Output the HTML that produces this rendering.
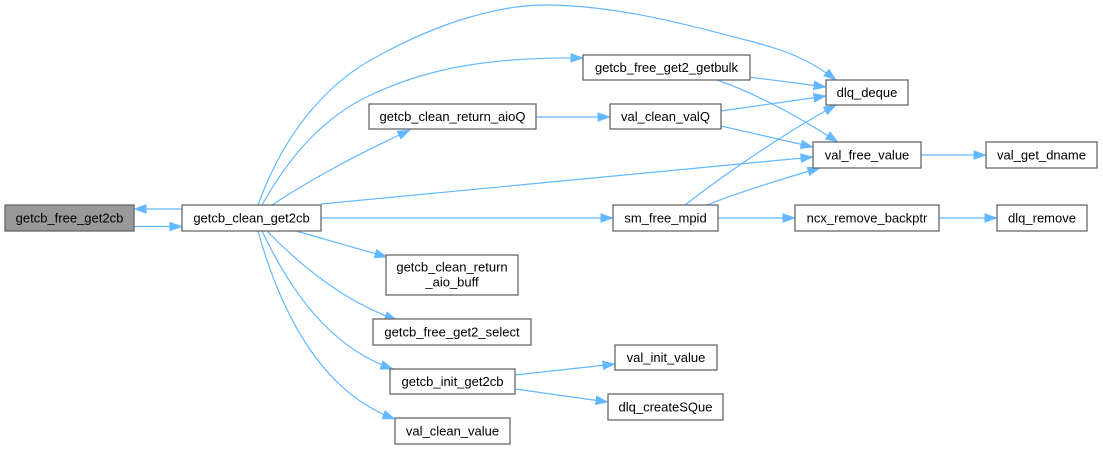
<!DOCTYPE html>
<html><head><meta charset="utf-8"><style>
html,body{margin:0;padding:0;background:#fff;}
svg{display:block;}
text{font-family:"Liberation Sans",Arial,sans-serif;font-size:13px;fill:#000;text-anchor:middle;}
.n{fill:#fff;stroke:#666;stroke-width:1.3;}
.e{fill:none;stroke:#63b8ff;stroke-width:1.2;}
</style></head><body>
<svg width="1103" height="449" viewBox="0 0 1103 449" xmlns="http://www.w3.org/2000/svg">
<defs>
<marker id="a" markerWidth="14" markerHeight="11" refX="12.5" refY="5" orient="auto" markerUnits="userSpaceOnUse">
<path d="M0,0.5 L12.5,5 L0,9.5 z" fill="#63b8ff" stroke="#63b8ff" stroke-width="0.6"/>
</marker>
</defs>

<!-- edges -->
<path class="e" marker-end="url(#a)" d="M182,209 L134,209"/>
<path class="e" marker-end="url(#a)" d="M134,226.5 L182,226.5"/>
<path class="e" marker-end="url(#a)" d="M258,205 C285,130 330,80 380,55 C440,22 500,5 545,5 C620,5 700,28 757,43 C795,53 815,64 836,80"/>
<path class="e" marker-end="url(#a)" d="M262,205 C290,155 325,115 375,93 C430,68 490,57 583,58"/>
<path class="e" marker-end="url(#a)" d="M272,205 C310,180 350,158 410,130"/>
<path class="e" marker-end="url(#a)" d="M536,117 L610,117"/>
<path class="e" marker-end="url(#a)" d="M721,111 L826,96"/>
<path class="e" marker-end="url(#a)" d="M721,126 L813,147"/>
<path class="e" marker-end="url(#a)" d="M749,77 L826,87"/>
<path class="e" marker-end="url(#a)" d="M717,80 C760,95 800,118 838,142"/>
<path class="e" marker-end="url(#a)" d="M321,204 L813,157"/>
<path class="e" marker-end="url(#a)" d="M321,218 L613,218"/>
<path class="e" marker-end="url(#a)" d="M685,205 C730,170 790,130 836,105"/>
<path class="e" marker-end="url(#a)" d="M704,206 C740,192 785,178 820,168"/>
<path class="e" marker-end="url(#a)" d="M718,218 L795,218"/>
<path class="e" marker-end="url(#a)" d="M939,218 L997,218"/>
<path class="e" marker-end="url(#a)" d="M921,155 L986,155"/>
<path class="e" marker-end="url(#a)" d="M296,231 L387,257"/>
<path class="e" marker-end="url(#a)" d="M267,231 C300,265 345,302 397,320"/>
<path class="e" marker-end="url(#a)" d="M262,231 C290,290 330,348 393,369"/>
<path class="e" marker-end="url(#a)" d="M258,231 C280,310 320,392 395,419"/>
<path class="e" marker-end="url(#a)" d="M515,375 L615,364"/>
<path class="e" marker-end="url(#a)" d="M515,389 L608,402"/>

<!-- nodes -->
<rect x="5" y="205" width="129" height="26" fill="#999" stroke="#666" stroke-width="1.3"/>
<text x="69.5" y="222.5">getcb_free_get2cb</text>

<rect class="n" x="182" y="205" width="139" height="26"/>
<text x="251.5" y="222.5">getcb_clean_get2cb</text>

<rect class="n" x="583" y="55" width="167" height="25"/>
<text x="666.5" y="72">getcb_free_get2_getbulk</text>

<rect class="n" x="369" y="104" width="167" height="25"/>
<text x="452.5" y="121">getcb_clean_return_aioQ</text>

<rect class="n" x="610" y="104" width="111" height="25"/>
<text x="665.5" y="121">val_clean_valQ</text>

<rect class="n" x="826" y="80" width="82" height="25"/>
<text x="867" y="97">dlq_deque</text>

<rect class="n" x="813" y="142" width="108" height="26"/>
<text x="867" y="159.5">val_free_value</text>

<rect class="n" x="986" y="142" width="111" height="26"/>
<text x="1041.5" y="159.5">val_get_dname</text>

<rect class="n" x="613" y="205" width="105" height="26"/>
<text x="665.5" y="222.5">sm_free_mpid</text>

<rect class="n" x="795" y="205" width="144" height="26"/>
<text x="867" y="222.5">ncx_remove_backptr</text>

<rect class="n" x="997" y="205" width="90" height="26"/>
<text x="1042" y="222.5">dlq_remove</text>

<rect class="n" x="386" y="255" width="132" height="40"/>
<text x="452" y="271.5">getcb_clean_return</text>
<text x="452" y="286.5">_aio_buff</text>

<rect class="n" x="373" y="319" width="158" height="26"/>
<text x="452" y="336.5">getcb_free_get2_select</text>

<rect class="n" x="390" y="369" width="125" height="25"/>
<text x="452.5" y="386">getcb_init_get2cb</text>

<rect class="n" x="395" y="418" width="115" height="26"/>
<text x="452.5" y="435.5">val_clean_value</text>

<rect class="n" x="615" y="345" width="102" height="25"/>
<text x="666" y="362">val_init_value</text>

<rect class="n" x="608" y="394" width="115" height="26"/>
<text x="665.5" y="411.5">dlq_createSQue</text>
</svg>
</body></html>
